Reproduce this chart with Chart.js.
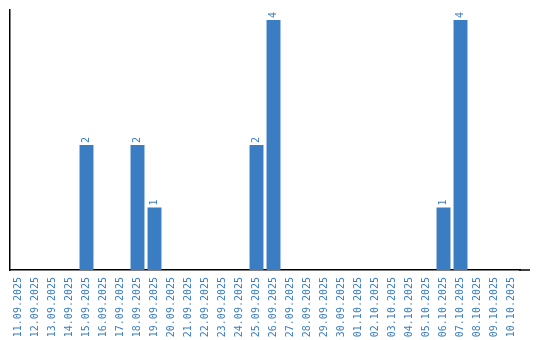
<!DOCTYPE html>
<html>
<head>
<meta charset="utf-8">
<script src="https://cdn.jsdelivr.net/npm/chart.js@4/dist/chart.umd.min.js"></script>
<style>
  html, body { margin: 0; padding: 0; background: #fff; }
  #wrap { width: 540px; height: 340px; }
</style>
</head>
<body>
<div id="wrap"><canvas id="barChart"></canvas></div>
<script>
const dates = [
  '11.09.2025', '12.09.2025', '13.09.2025', '14.09.2025', '15.09.2025',
  '16.09.2025', '17.09.2025', '18.09.2025', '19.09.2025', '20.09.2025',
  '21.09.2025', '22.09.2025', '23.09.2025', '24.09.2025', '25.09.2025',
  '26.09.2025', '27.09.2025', '28.09.2025', '29.09.2025', '30.09.2025',
  '01.10.2025', '02.10.2025', '03.10.2025', '04.10.2025', '05.10.2025',
  '06.10.2025', '07.10.2025', '08.10.2025', '09.10.2025', '10.10.2025'
];
const counts = [
  0, 0, 0, 0, 2,
  0, 0, 2, 1, 0,
  0, 0, 0, 0, 2,
  4, 0, 0, 0, 0,
  0, 0, 0, 0, 0,
  1, 4, 0, 0, 0
];

const blue = '#3b7dc3';
const monoFont = '"DejaVu Sans Mono", monospace';

// numeros encima de cada barra, girados
const valueLabels = {
  id: 'valueLabels',
  afterDatasetsDraw(chart) {
    const ctx = chart.ctx;
    const meta = chart.getDatasetMeta(0);
    ctx.save();
    ctx.fillStyle = blue;
    ctx.font = '10px ' + monoFont;
    ctx.textAlign = 'left';
    ctx.textBaseline = 'middle';
    meta.data.forEach((bar, i) => {
      const v = chart.data.datasets[0].data[i];
      if (!v) return;
      ctx.save();
      ctx.translate(bar.x, bar.y - 2);
      ctx.rotate(-Math.PI / 2);
      ctx.fillText(String(v), 0, 0);
      ctx.restore();
    });
    ctx.restore();
  }
};

// la linea del eje x sigue un poco mas a la derecha
const axisTail = {
  id: 'axisTail',
  afterDraw(chart) {
    const a = chart.chartArea;
    const ctx = chart.ctx;
    ctx.save();
    ctx.strokeStyle = '#000';
    ctx.lineWidth = 1.5;
    ctx.beginPath();
    ctx.moveTo(a.right - 1, a.bottom);
    ctx.lineTo(a.right + 10, a.bottom);
    ctx.stroke();
    ctx.restore();
  }
};

function renderBars() {
  const ctx = document.getElementById('barChart').getContext('2d');
  new Chart(ctx, {
    type: 'bar',
    data: {
      labels: dates,
      datasets: [{
        data: counts,
        backgroundColor: blue,
        barPercentage: 0.82,
        categoryPercentage: 1
      }]
    },
    options: {
      responsive: true,
      maintainAspectRatio: false,
      animation: false,
      layout: { padding: { left: 2, right: 20, top: 10, bottom: 0 } },
      plugins: {
        legend: { display: false },
        tooltip: { enabled: false }
      },
      scales: {
        x: {
          grid: { display: false },
          border: { color: '#000', width: 1.5 },
          afterFit(scale) { scale.height = 70; },
          ticks: {
            color: blue,
            font: { family: monoFont, size: 10 },
            minRotation: 90,
            maxRotation: 90,
            autoSkip: false,
            padding: -1
          }
        },
        y: {
          min: 0,
          max: Math.max(...counts) * 1.04,
          grid: { display: false },
          border: { color: '#000', width: 1.5 },
          ticks: { display: false }
        }
      }
    },
    plugins: [valueLabels, axisTail]
  });
}

renderBars();
</script>
</body>
</html>
